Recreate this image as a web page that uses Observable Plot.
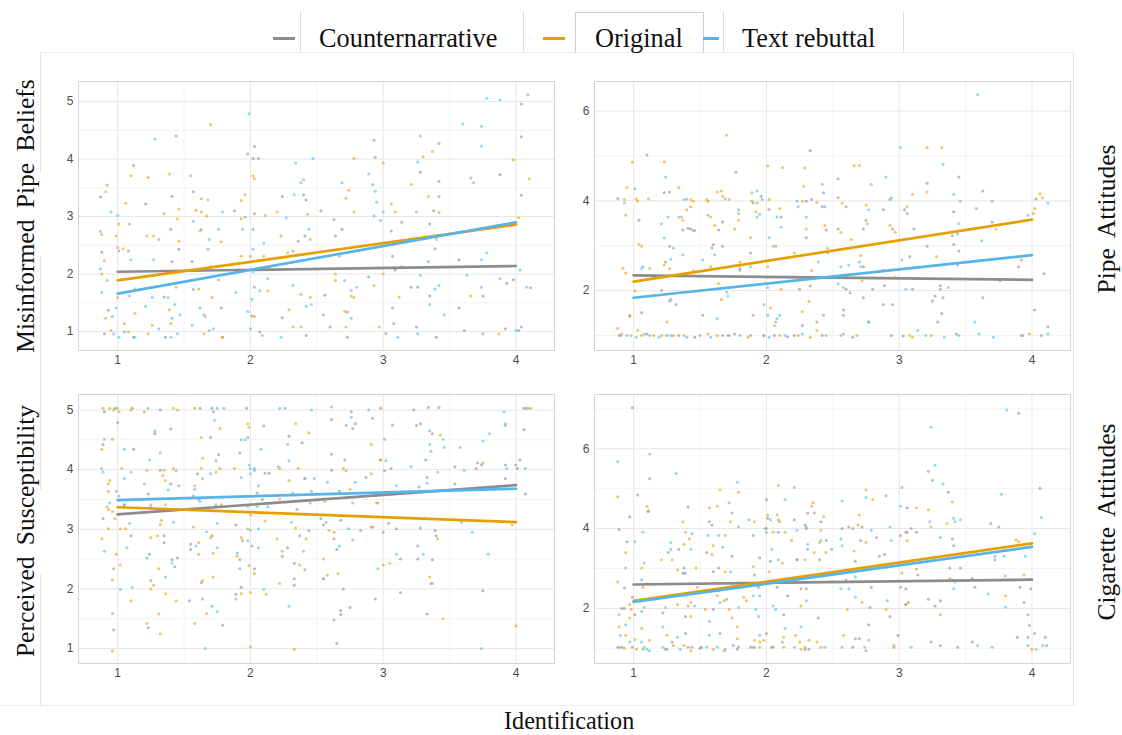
<!DOCTYPE html>
<html>
<head>
<meta charset="utf-8">
<script src="https://cdn.jsdelivr.net/npm/d3@7"></script>
<script src="https://cdn.jsdelivr.net/npm/@observablehq/plot@0.6"></script>
<style>
  body { margin: 0; background: #fff; }
  #root { position: relative; width: 1122px; height: 735px; overflow: hidden; background: #fff; font-family: "Liberation Serif", "Times New Roman", serif; color: #111; }
  .abs { position: absolute; }
  .leg { position: absolute; font-size: 28px; line-height: 28px; white-space: nowrap; transform-origin: left center; transform: scaleX(0.94); }
  .sw { position: absolute; height: 3px; }
  .vline { position: absolute; width: 1px; background: #dcdcdc; }
  .hline { position: absolute; height: 1px; background: #ececec; }
  .rot { position: absolute; font-size: 25.5px; white-space: nowrap; word-spacing: 5px; transform: translate(-50%, -50%) rotate(-90deg); }
  .panel { position: absolute; }
</style>
</head>
<body>
<div id="root"></div>
<script>
// ---------- categories / labels ----------
const groups = ["Counternarrative", "Original", "Text rebuttal"];
const groupColors = ["#8c8c8c", "#E69F00", "#56B4E9"];
const xTicks = [1, 2, 3, 4];
const xMinor = [1.5, 2.5, 3.5];
const rowLabelsLeft = ["Misinformed Pipe Beliefs", "Perceived Susceptibility"];
const rowLabelsRight = ["Pipe Attitudes", "Cigarette Attitudes"];
const xAxisLabel = "Identification";

// ---------- Panel 1: Misinformed Pipe Beliefs ----------
const beliefsCounter = [[0.87,3.34],[0.92,3.55],[0.88,2.38],[0.93,1.37],[0.90,0.96],[1.12,3.89],[1.08,2.40],[1.21,3.22],[1.41,3.35],[1.44,4.40],[1.40,2.78],[1.46,2.43],[1.41,2.22],[1.35,1.60],[1.36,0.90],[1.12,0.90],[1.56,2.22],[1.57,3.43],[1.63,2.77],[1.57,1.73],[1.78,1.41],[1.79,0.90],[1.76,1.90],[1.88,3.10],[1.98,4.09],[2.03,4.22],[2.02,4.01],[2.06,4.01],[2.03,3.05],[2.02,2.78],[2.03,1.77],[2.01,1.27],[2.07,0.99],[2.24,3.35],[2.40,3.38],[2.42,3.29],[2.36,2.57],[2.41,2.66],[2.32,2.40],[2.24,1.24],[2.42,0.93],[2.53,3.10],[2.63,2.95],[2.69,2.78],[2.64,2.66],[2.56,1.63],[2.55,1.29],[2.60,1.08],[2.73,0.90],[2.73,1.34],[2.93,4.33],[2.94,4.03],[2.92,3.56],[2.89,1.95],[3.06,2.75],[3.14,2.90],[3.07,2.31],[3.09,2.07],[3.07,1.41],[3.08,1.14],[3.02,0.96],[3.28,3.77],[3.35,2.87],[3.42,4.27],[3.42,3.61],[3.42,3.35],[3.38,3.10],[3.39,2.44],[3.26,1.77],[3.21,1.77],[3.35,1.62],[3.40,0.90],[3.25,1.08],[3.57,2.25],[3.57,1.41],[3.61,1.02],[3.66,3.67],[3.75,1.62],[3.75,0.96],[3.88,3.73],[3.93,1.84],[3.98,1.90],[3.92,1.05],[4.04,3.37],[4.04,4.39],[4.04,4.96],[4.11,1.76],[4.04,1.08],[4.02,1.02]];
const beliefsOriginal = [[0.91,3.43],[0.88,2.69],[0.90,2.23],[0.88,2.00],[0.91,1.23],[0.95,1.02],[0.99,2.66],[1.00,2.46],[1.01,2.87],[1.06,3.23],[1.10,3.71],[1.04,2.44],[1.00,1.59],[1.05,1.14],[1.08,0.99],[1.13,1.74],[1.13,1.32],[1.22,2.66],[1.23,3.68],[1.27,2.66],[1.23,0.96],[1.26,1.11],[1.35,3.05],[1.39,3.74],[1.45,2.96],[1.46,3.13],[1.46,2.57],[1.44,1.77],[1.39,1.38],[1.40,1.14],[1.62,2.75],[1.63,3.31],[1.59,3.11],[1.63,3.08],[1.68,3.29],[1.70,4.60],[1.67,3.01],[1.70,2.13],[1.61,1.74],[1.65,1.29],[1.65,0.96],[1.71,1.59],[1.78,2.56],[1.79,0.90],[1.93,3.28],[1.96,3.38],[1.93,2.96],[1.93,2.31],[1.91,2.07],[2.02,3.71],[2.03,3.66],[2.00,2.31],[2.03,1.26],[2.11,3.02],[2.10,2.31],[2.14,2.10],[2.13,1.71],[2.20,3.08],[2.23,2.66],[2.28,2.37],[2.29,1.38],[2.32,1.08],[2.43,3.04],[2.45,2.60],[2.38,1.65],[2.45,1.59],[2.38,1.08],[2.72,3.32],[2.74,3.46],[2.78,4.01],[2.78,3.08],[2.64,2.00],[2.64,1.89],[2.71,1.35],[2.72,1.08],[2.76,1.62],[2.78,1.59],[2.93,1.80],[3.00,3.93],[3.06,3.22],[3.09,3.08],[3.00,2.00],[2.97,1.08],[3.12,1.60],[3.21,3.56],[3.30,4.04],[3.37,4.13],[3.34,3.35],[3.40,2.60],[3.42,3.07],[3.66,1.62],[3.87,0.96],[3.98,3.99],[4.02,2.98],[4.10,3.66]];
const beliefsRebuttal = [[0.87,2.74],[0.87,2.09],[0.88,1.68],[0.95,3.08],[0.92,1.89],[0.96,1.26],[0.99,1.41],[1.00,3.02],[1.01,2.40],[0.97,0.96],[1.01,0.90],[1.05,0.99],[1.09,2.87],[1.10,2.25],[1.13,0.90],[1.09,1.62],[1.28,4.35],[1.27,2.25],[1.31,2.60],[1.26,1.59],[1.21,1.44],[1.31,1.05],[1.41,1.23],[1.43,1.47],[1.47,1.29],[1.38,1.59],[1.40,0.90],[1.45,0.96],[1.55,3.71],[1.57,2.92],[1.56,1.11],[1.62,1.41],[1.68,2.43],[1.69,2.60],[1.66,1.26],[1.69,1.02],[1.76,2.78],[1.79,3.08],[1.72,1.05],[1.89,1.68],[1.94,2.78],[1.96,2.99],[1.99,4.79],[1.98,1.35],[2.01,1.56],[2.02,2.43],[2.02,2.04],[2.00,1.05],[2.09,0.93],[2.10,2.54],[2.13,1.92],[2.07,1.71],[2.27,2.98],[2.34,3.93],[2.33,3.38],[2.38,3.59],[2.40,3.64],[2.47,4.01],[2.32,1.80],[2.42,1.44],[2.46,1.47],[2.44,2.78],[2.23,0.90],[2.69,3.59],[2.67,2.31],[2.71,1.89],[2.76,1.23],[2.80,1.77],[2.76,1.72],[2.89,3.74],[2.94,3.44],[2.95,3.25],[2.93,3.01],[2.98,2.93],[3.00,3.08],[3.11,0.90],[3.14,2.13],[3.25,3.08],[3.26,3.95],[3.28,4.40],[3.28,1.98],[3.35,1.47],[3.34,2.22],[3.46,1.29],[3.39,1.74],[3.42,1.80],[3.26,0.96],[3.60,4.61],[3.68,3.59],[3.63,1.98],[3.74,4.57],[3.74,4.23],[3.78,5.06],[3.74,2.25],[3.78,2.37],[3.74,1.77],[3.88,5.03],[3.88,1.92],[4.09,5.12],[4.03,2.07],[4.08,1.77],[4.00,1.02]];
const beliefsFit = [[2.04, 2.14], [1.89, 2.86], [1.66, 2.90]]; // fitted y at Identification = 1 and 4

// ---------- Panel 2: Pipe Attitudes ----------
const pipeCounter = [[0.88,4.05],[1.04,3.57],[1.10,5.02],[1.06,1.51],[0.97,1.45],[1.23,4.18],[1.27,4.20],[1.24,2.64],[1.21,2.00],[1.27,2.99],[1.32,1.69],[1.28,1.80],[1.37,3.35],[1.41,3.39],[1.43,3.37],[1.52,1.45],[1.59,2.95],[1.60,3.03],[1.67,3.53],[1.64,3.35],[1.67,2.99],[1.77,4.64],[1.80,2.49],[1.88,2.84],[1.90,1.45],[1.96,4.10],[2.02,3.81],[2.01,2.30],[2.07,2.99],[2.11,3.64],[2.16,0.97],[2.27,1.22],[2.30,3.99],[2.33,5.12],[2.30,3.18],[2.33,2.11],[2.25,2.03],[2.34,4.03],[2.38,1.30],[2.42,3.87],[2.45,3.35],[2.43,4.18],[2.43,1.45],[2.54,4.49],[2.54,4.07],[2.54,3.37],[2.58,1.45],[2.58,1.57],[2.60,3.87],[2.60,2.03],[2.63,1.95],[2.65,0.96],[2.73,1.84],[2.75,3.57],[2.73,3.37],[2.73,2.53],[2.77,1.30],[2.80,2.03],[2.88,3.80],[2.88,1.69],[2.89,2.11],[2.88,2.45],[2.93,4.03],[2.95,3.37],[2.95,1.69],[2.94,1.00],[3.03,0.99],[3.04,3.80],[3.06,3.72],[3.08,2.76],[3.10,2.03],[3.11,3.37],[3.21,4.39],[3.21,2.99],[3.25,1.77],[3.27,1.88],[3.31,2.11],[3.31,2.03],[3.29,1.30],[3.32,1.49],[3.33,1.84],[3.41,3.76],[3.41,3.03],[3.43,1.03],[3.45,4.53],[3.45,2.88],[3.40,3.22],[3.63,4.22],[3.63,1.84],[3.70,3.53],[3.76,2.22],[3.90,2.53],[3.92,2.68],[3.93,1.00],[4.02,1.57],[4.03,4.04],[4.09,2.38],[4.07,1.00],[4.12,1.19],[0.90,1.00],[1.10,1.03],[1.25,1.00],[1.34,1.00],[1.46,0.96],[1.67,1.00],[1.76,1.03],[1.88,1.00],[2.06,1.00],[2.21,1.00],[2.42,1.00]];
const pipeOriginal = [[0.88,1.16],[0.99,4.86],[0.95,4.30],[0.93,4.03],[0.94,3.68],[0.92,2.50],[0.94,2.39],[1.02,4.04],[1.03,3.99],[1.04,3.03],[1.06,2.99],[1.01,1.99],[0.97,1.42],[1.11,4.04],[1.12,2.49],[1.12,1.88],[1.03,1.11],[1.23,4.87],[1.23,2.57],[1.25,1.30],[1.27,2.49],[1.34,4.30],[1.36,3.64],[1.37,3.57],[1.40,3.80],[1.43,4.03],[1.45,3.99],[1.43,3.87],[1.45,3.34],[1.45,2.45],[1.55,4.03],[1.56,3.99],[1.58,3.64],[1.61,3.45],[1.63,4.20],[1.66,4.22],[1.67,4.10],[1.69,4.04],[1.70,5.46],[1.66,1.80],[1.64,2.16],[1.76,3.37],[1.79,3.57],[1.80,2.64],[1.79,3.72],[1.88,3.18],[1.89,3.99],[1.92,3.76],[1.93,3.95],[2.01,4.78],[2.01,2.53],[2.02,4.03],[2.03,1.61],[2.05,2.99],[2.10,3.83],[2.12,4.74],[2.11,2.03],[2.06,1.22],[2.21,2.84],[2.27,3.99],[2.28,4.32],[2.29,4.73],[2.27,1.53],[2.30,3.37],[2.32,1.76],[2.34,2.45],[2.38,3.97],[2.44,3.45],[2.46,2.95],[2.38,1.11],[2.56,3.30],[2.57,3.95],[2.59,2.34],[2.64,3.14],[2.66,4.78],[2.70,4.79],[2.71,2.78],[2.72,2.22],[2.75,3.91],[2.76,3.49],[2.93,3.45],[2.97,3.30],[2.97,2.30],[3.06,3.87],[3.10,4.14],[3.08,1.00],[3.21,5.19],[3.21,4.20],[3.24,1.00],[3.28,2.76],[3.32,5.19],[3.73,3.37],[3.98,1.03],[4.01,3.72],[4.02,3.83],[4.06,4.16],[4.08,4.07],[0.91,1.03],[0.98,1.00],[1.06,1.00],[1.15,1.00],[1.21,1.00],[1.30,1.00],[1.38,1.00],[1.56,1.03],[1.63,1.00],[1.72,1.00],[1.86,0.96],[1.98,1.00],[2.10,1.00],[2.24,1.00],[2.33,0.96],[2.56,1.00],[2.68,1.00],[3.10,0.96]];
const pipeRebuttal = [[0.93,3.95],[1.01,4.27],[1.06,2.49],[1.07,2.53],[1.24,4.53],[1.21,3.49],[1.23,3.18],[1.26,3.64],[1.30,2.95],[1.28,2.70],[1.27,1.76],[1.34,3.64],[1.37,2.80],[1.38,4.03],[1.40,4.04],[1.46,3.34],[1.52,2.68],[1.56,3.68],[1.58,2.53],[1.61,2.80],[1.63,1.38],[1.70,1.97],[1.71,1.88],[1.72,4.03],[1.79,3.80],[1.80,2.45],[1.88,2.53],[1.89,4.18],[1.90,3.95],[1.93,3.64],[1.93,4.22],[1.95,3.70],[1.97,4.03],[1.98,1.69],[2.01,1.45],[2.02,3.18],[2.01,2.07],[2.07,1.30],[2.08,1.38],[2.10,1.45],[2.08,3.64],[2.11,3.41],[2.23,3.99],[2.24,3.87],[2.30,3.64],[2.39,2.64],[2.42,4.37],[2.44,3.87],[2.46,2.84],[2.56,2.53],[2.54,2.15],[2.58,2.07],[2.62,2.57],[2.70,2.64],[2.71,2.53],[2.77,3.80],[2.77,1.30],[2.79,4.37],[2.90,4.53],[2.94,4.07],[3.01,5.19],[3.02,2.68],[3.05,2.03],[3.14,1.11],[3.33,4.81],[3.37,2.07],[3.41,4.14],[3.45,3.49],[3.44,3.26],[3.46,3.99],[3.44,2.57],[3.57,1.30],[3.58,3.83],[3.59,6.37],[3.62,3.11],[3.70,3.99],[3.97,3.68],[4.12,3.95],[4.12,1.03],[0.89,1.00],[0.95,1.00],[1.02,0.96],[1.08,1.03],[1.12,1.00],[1.19,0.96],[1.28,1.00],[1.40,0.96],[1.50,1.00],[1.58,0.96],[1.71,1.00],[1.80,1.00],[1.98,1.00],[2.02,0.96],[2.14,1.00],[2.27,1.03],[2.45,1.00],[2.58,1.03],[3.20,1.00],[3.34,0.96],[3.45,1.00],[3.60,1.03],[3.71,0.96],[3.92,1.00]];
const pipeFit = [[2.34, 2.24], [2.20, 3.58], [1.84, 2.79]];

// ---------- Panel 3: Perceived Susceptibility ----------
const suscCounter = [[0.90,4.97],[0.98,5.03],[1.00,4.79],[0.89,3.18],[0.89,4.42],[0.97,2.34],[0.97,1.31],[1.11,5.03],[1.12,4.34],[1.05,3.41],[1.10,2.89],[1.23,3.59],[1.24,2.58],[1.25,2.14],[1.23,1.35],[1.28,4.60],[1.32,5.00],[1.32,3.99],[1.35,2.89],[1.35,2.78],[1.40,4.68],[1.40,3.76],[1.41,2.49],[1.43,2.37],[1.45,2.52],[1.46,3.73],[1.54,1.80],[1.55,2.66],[1.55,2.75],[1.57,3.56],[1.60,3.93],[1.62,5.03],[1.63,2.11],[1.64,1.83],[1.70,4.54],[1.72,4.97],[1.71,5.03],[1.71,2.89],[1.74,4.15],[1.76,4.25],[1.79,1.39],[1.89,3.07],[1.89,1.91],[1.92,4.28],[1.92,2.49],[1.93,2.03],[1.94,2.81],[1.97,5.03],[1.98,4.54],[2.01,2.72],[2.03,2.34],[2.05,3.61],[2.10,4.73],[2.09,3.50],[2.11,3.94],[2.14,3.94],[2.24,2.55],[2.29,4.56],[2.28,2.69],[2.33,2.43],[2.33,2.17],[2.33,2.06],[2.35,3.33],[2.37,2.89],[2.39,4.45],[2.41,3.85],[2.44,2.98],[2.41,2.32],[2.46,3.64],[2.53,3.18],[2.55,3.07],[2.61,4.84],[2.61,4.26],[2.61,3.99],[2.63,2.84],[2.63,1.48],[2.65,2.66],[2.65,1.09],[2.67,3.64],[2.68,3.15],[2.68,1.57],[2.68,1.64],[2.70,2.00],[2.71,4.16],[2.72,4.74],[2.75,1.69],[2.76,4.97],[2.77,4.69],[2.79,4.77],[2.83,2.98],[2.87,3.87],[2.92,4.86],[2.92,3.04],[2.94,1.83],[2.98,5.03],[2.98,4.16],[3.00,2.95],[3.01,3.98],[3.04,3.10],[3.06,4.02],[3.07,4.75],[3.10,3.01],[3.13,2.50],[3.13,1.94],[3.23,5.00],[3.25,4.74],[3.28,4.77],[3.27,3.71],[3.26,2.72],[3.26,2.50],[3.28,3.02],[3.32,4.16],[3.33,3.87],[3.33,1.58],[3.34,5.04],[3.37,4.60],[3.37,2.49],[3.39,2.98],[3.40,2.89],[3.42,5.04],[3.54,3.76],[3.54,4.05],[3.70,4.02],[3.71,4.11],[3.74,4.08],[3.75,1.97],[3.92,3.85],[3.92,4.08],[4.00,4.08],[4.01,4.02],[4.03,4.16],[4.06,4.67],[4.07,3.59],[4.09,5.03]];
const suscOriginal = [[0.88,4.34],[0.88,2.84],[0.89,5.03],[0.96,4.51],[0.93,3.76],[0.93,3.64],[0.94,3.82],[0.92,3.38],[0.93,3.33],[0.96,3.30],[0.93,3.01],[0.98,3.18],[0.99,2.58],[0.96,2.15],[0.96,0.96],[0.94,5.03],[0.97,5.00],[1.01,4.97],[1.03,4.02],[1.02,3.01],[1.06,3.01],[1.02,2.40],[1.10,1.80],[1.10,5.00],[1.20,4.97],[1.22,3.99],[1.25,3.41],[1.25,2.86],[1.27,2.06],[1.25,2.00],[1.22,1.42],[1.31,2.34],[1.31,1.58],[1.32,1.25],[1.33,3.15],[1.32,3.08],[1.30,2.89],[1.34,3.90],[1.35,3.99],[1.36,3.82],[1.36,3.41],[1.36,1.92],[1.42,5.03],[1.45,5.00],[1.42,4.02],[1.44,1.80],[1.58,5.03],[1.58,3.73],[1.57,3.04],[1.58,1.42],[1.61,2.58],[1.61,2.78],[1.63,4.54],[1.63,4.02],[1.64,2.14],[1.64,4.19],[1.67,1.59],[1.70,2.86],[1.72,2.60],[1.72,2.20],[1.74,3.96],[1.77,4.02],[1.78,3.41],[1.77,4.69],[1.88,4.02],[1.90,2.55],[1.93,1.92],[1.93,2.86],[1.98,4.77],[1.99,4.71],[1.99,2.39],[1.98,3.01],[2.00,1.03],[2.00,1.94],[2.00,3.24],[2.03,2.26],[2.08,3.27],[2.11,3.14],[2.12,1.91],[2.22,4.02],[2.22,3.51],[2.20,2.84],[2.22,2.09],[2.24,2.63],[2.29,3.82],[2.34,4.77],[2.34,3.02],[2.36,4.02],[2.37,2.40],[2.33,0.99],[2.42,2.84],[2.44,4.62],[2.55,2.50],[2.55,2.17],[2.58,2.23],[2.56,3.47],[2.59,2.98],[2.63,2.95],[2.66,2.26],[2.70,4.02],[2.72,3.98],[2.75,3.67],[2.91,4.42],[2.91,3.93],[2.91,3.04],[2.96,3.44],[2.95,3.44],[2.98,4.16],[3.00,2.40],[3.05,2.43],[3.31,3.19],[3.35,2.20],[3.36,2.09],[3.41,2.84],[3.43,4.58],[3.45,1.50],[3.75,4.11],[3.97,3.07],[4.00,1.38],[4.06,5.03],[4.11,5.03]];
const suscRebuttal = [[0.88,4.02],[0.89,3.96],[0.90,4.51],[0.90,2.63],[0.94,3.44],[0.96,1.59],[1.00,5.03],[0.99,3.64],[1.01,3.56],[1.02,1.99],[1.05,4.34],[1.05,3.85],[1.05,3.41],[1.07,2.69],[1.09,3.10],[1.11,2.03],[1.10,3.96],[1.20,3.76],[1.22,2.52],[1.23,5.03],[1.24,4.16],[1.25,3.37],[1.28,4.65],[1.32,4.28],[1.36,2.20],[1.38,3.66],[1.41,2.43],[1.42,3.12],[1.44,3.98],[1.45,3.33],[1.61,3.50],[1.58,3.67],[1.62,3.47],[1.59,2.72],[1.64,3.85],[1.66,1.00],[1.67,2.96],[1.70,3.93],[1.71,1.71],[1.73,4.83],[1.75,1.62],[1.75,3.10],[1.75,5.03],[1.80,5.03],[1.74,3.41],[1.75,2.69],[1.89,1.83],[1.90,2.60],[1.92,2.34],[1.93,3.87],[1.93,4.50],[1.96,4.50],[1.98,2.81],[1.98,3.38],[1.99,4.08],[2.00,4.02],[2.00,2.99],[2.00,3.93],[2.03,4.02],[2.03,3.99],[2.05,3.38],[2.06,3.01],[2.06,3.73],[2.08,4.34],[2.10,1.99],[2.06,2.69],[2.13,3.38],[2.22,5.03],[2.26,5.03],[2.21,4.05],[2.28,4.42],[2.29,4.15],[2.29,1.71],[2.31,3.12],[2.32,3.61],[2.40,2.63],[2.41,3.85],[2.46,5.00],[2.48,3.85],[2.45,3.44],[2.61,5.05],[2.58,3.79],[2.57,3.12],[2.55,2.17],[2.67,2.72],[2.74,3.01],[2.77,3.44],[2.77,2.82],[2.76,4.88],[2.79,3.79],[2.89,5.00],[2.96,2.34],[3.01,4.51],[3.02,4.15],[3.10,3.73],[3.10,2.58],[3.21,4.05],[3.30,2.58],[3.33,3.77],[3.35,4.65],[3.35,4.42],[3.36,4.31],[3.37,2.09],[3.41,3.96],[3.45,4.51],[3.46,4.37],[3.59,3.12],[3.58,4.37],[3.61,3.99],[3.67,2.95],[3.75,4.48],[3.74,1.00],[3.79,2.58],[3.80,4.60],[3.91,4.97],[3.92,4.77],[3.93,4.02],[3.92,4.74],[4.07,4.02],[4.07,5.03]];
const suscFit = [[3.25, 3.74], [3.37, 3.12], [3.49, 3.68]];

// ---------- Panel 4: Cigarette Attitudes ----------
const cigCounter = [[0.99,7.03],[0.89,3.98],[0.97,4.30],[0.95,3.67],[0.93,2.51],[0.91,2.00],[0.93,2.00],[1.01,1.84],[1.03,4.84],[1.12,5.25],[1.11,4.43],[0.99,2.28],[1.22,1.89],[1.26,3.40],[1.29,1.16],[1.34,3.48],[1.39,1.80],[1.41,4.54],[1.38,3.01],[1.39,1.37],[1.44,1.03],[1.50,1.00],[1.55,3.40],[1.57,4.17],[1.59,4.09],[1.60,2.92],[1.60,1.97],[1.64,3.01],[1.65,1.37],[1.64,2.45],[1.70,2.23],[1.74,4.39],[1.74,3.31],[1.75,1.07],[1.78,0.98],[1.88,1.03],[1.90,3.83],[1.91,2.84],[1.94,2.53],[1.95,3.27],[2.00,4.73],[2.01,4.26],[2.03,3.18],[2.00,1.37],[2.05,1.03],[2.08,2.53],[2.09,3.91],[2.12,1.16],[2.13,1.84],[2.16,2.32],[2.21,4.22],[2.23,3.22],[2.26,2.49],[2.29,4.09],[2.30,2.49],[2.30,4.00],[2.31,4.39],[2.36,4.39],[2.39,1.76],[2.40,3.22],[2.41,4.17],[2.45,3.70],[2.49,3.48],[2.57,4.00],[2.60,2.71],[2.62,4.04],[2.65,4.00],[2.65,1.03],[2.67,3.18],[2.67,1.24],[2.70,1.24],[2.71,3.70],[2.72,4.04],[2.75,0.94],[2.77,1.59],[2.78,2.02],[2.79,2.53],[2.83,3.78],[2.85,3.31],[2.89,3.35],[2.93,1.80],[2.96,1.03],[3.01,3.83],[2.99,1.33],[3.01,2.53],[3.05,3.91],[3.07,2.15],[3.05,2.49],[3.06,3.91],[3.05,2.10],[3.06,4.52],[3.09,4.00],[3.13,3.91],[3.14,2.84],[3.22,5.44],[3.22,2.23],[3.24,1.16],[3.25,5.21],[3.27,2.06],[3.31,2.19],[3.31,1.07],[3.37,4.91],[3.38,3.01],[3.40,3.74],[3.41,3.57],[3.40,2.71],[3.44,1.03],[3.46,3.01],[3.55,2.75],[3.57,2.53],[3.55,1.16],[3.69,4.13],[3.75,4.04],[3.72,3.22],[3.84,2.71],[3.89,1.28],[3.90,6.89],[3.91,2.53],[3.94,2.15],[3.97,1.84],[3.98,1.57],[3.97,1.28],[3.99,2.49],[4.02,1.37],[4.06,5.01],[4.10,1.28],[4.11,1.07],[0.91,1.03],[0.99,1.03],[1.24,0.98],[1.41,1.03],[1.51,1.03],[1.79,1.03],[2.04,1.03],[2.29,0.98],[2.32,0.98]];
const cigOriginal = [[0.88,4.80],[0.88,2.66],[0.89,1.54],[0.94,3.40],[0.94,1.33],[0.97,2.10],[0.97,1.76],[0.98,1.97],[1.01,1.22],[1.06,3.01],[1.07,2.53],[1.06,1.50],[1.10,2.62],[1.10,4.56],[1.11,4.45],[1.08,2.02],[1.12,1.20],[1.21,3.22],[1.24,2.62],[1.25,1.33],[1.29,3.22],[1.33,2.97],[1.33,2.10],[1.37,4.17],[1.38,3.61],[1.39,3.91],[1.38,2.88],[1.41,2.06],[1.43,1.80],[1.42,3.74],[1.43,2.15],[1.47,3.01],[1.48,2.53],[1.54,1.97],[1.57,4.52],[1.59,3.35],[1.60,3.57],[1.63,4.56],[1.63,2.32],[1.65,4.97],[1.68,2.19],[1.69,2.92],[1.69,3.83],[1.72,1.97],[1.73,4.17],[1.74,2.62],[1.74,1.76],[1.78,1.54],[1.79,4.91],[1.78,1.24],[1.83,2.28],[1.85,2.19],[1.90,3.05],[1.91,4.17],[1.91,1.20],[1.95,1.16],[1.98,1.20],[2.01,4.34],[2.00,4.00],[2.02,2.92],[2.05,3.91],[2.08,4.34],[2.09,5.08],[2.10,4.17],[2.12,3.14],[2.13,1.28],[2.14,3.91],[2.19,3.70],[2.22,1.33],[2.25,1.16],[2.26,2.06],[2.29,3.22],[2.29,1.03],[2.32,1.20],[2.34,4.56],[2.35,4.65],[2.36,3.40],[2.38,1.16],[2.40,3.65],[2.41,3.96],[2.43,4.30],[2.45,3.40],[2.58,1.33],[2.61,1.97],[2.65,2.66],[2.66,3.44],[2.69,4.09],[2.70,4.34],[2.72,2.15],[2.75,4.97],[2.75,3.65],[2.77,1.20],[2.80,4.73],[2.90,1.97],[2.96,1.07],[3.02,2.88],[3.05,2.10],[3.06,3.70],[3.13,2.98],[3.13,4.52],[3.22,4.47],[3.24,4.04],[3.31,1.84],[3.36,4.13],[3.38,2.75],[3.40,4.67],[3.80,2.32],[3.88,3.72],[3.90,3.67],[3.94,2.84],[4.00,0.98],[0.89,1.03],[0.93,1.00],[1.02,0.98],[1.08,1.03],[1.22,1.03],[1.30,1.07],[1.38,1.07],[1.43,0.94],[1.60,0.98],[1.68,0.94],[1.90,1.03],[1.95,1.03],[2.13,1.03],[2.26,0.98],[2.41,1.03]];
const cigRebuttal = [[0.88,5.68],[0.89,1.84],[0.90,1.33],[0.94,3.01],[0.94,1.59],[0.97,1.16],[1.01,3.67],[1.06,1.93],[1.06,2.71],[1.07,3.91],[1.08,3.14],[1.12,5.87],[1.06,1.16],[1.10,0.98],[1.12,0.94],[1.22,1.54],[1.24,2.02],[1.28,3.48],[1.28,3.65],[1.33,1.28],[1.32,5.38],[1.37,2.88],[1.39,2.88],[1.44,3.87],[1.43,3.48],[1.46,2.06],[1.52,2.41],[1.57,1.67],[1.56,3.83],[1.57,1.33],[1.65,2.15],[1.64,3.83],[1.67,3.53],[1.72,4.65],[1.73,2.92],[1.78,5.16],[1.79,4.04],[1.79,2.02],[1.87,4.22],[1.90,2.32],[1.92,1.97],[1.95,2.32],[1.94,1.80],[1.95,1.33],[1.99,4.00],[2.00,3.91],[2.03,4.22],[2.04,3.48],[2.05,2.06],[2.07,1.97],[2.09,4.22],[2.09,3.22],[2.14,1.50],[2.14,4.73],[2.21,5.03],[2.23,3.22],[2.23,3.96],[2.30,2.19],[2.31,3.48],[2.31,3.61],[2.26,1.54],[2.30,4.04],[2.41,3.70],[2.56,3.74],[2.57,3.57],[2.57,4.69],[2.56,2.49],[2.62,2.49],[2.67,2.28],[2.67,2.79],[2.75,4.78],[2.79,3.96],[2.90,4.82],[2.91,2.19],[2.93,4.04],[2.94,3.70],[3.01,4.56],[3.02,5.03],[3.09,1.03],[3.23,4.17],[3.24,6.54],[3.27,5.59],[3.31,3.78],[3.33,5.12],[3.41,4.26],[3.42,4.17],[3.42,2.66],[3.41,2.49],[3.46,4.22],[3.59,1.07],[3.67,2.36],[3.70,1.03],[3.72,3.31],[3.77,4.86],[3.79,3.31],[3.80,2.81],[3.80,2.03],[3.81,6.97],[3.95,3.31],[3.97,1.07],[4.02,3.87],[4.03,0.98],[4.07,4.28],[4.08,1.07],[0.88,1.03],[1.07,0.98],[1.25,0.98],[1.35,0.98],[1.55,1.03],[1.63,1.03],[1.69,0.98],[1.91,1.03],[2.21,1.03],[2.44,1.03],[2.57,1.03],[2.74,1.03]];
const cigFit = [[2.60, 2.72], [2.19, 3.63], [2.16, 3.54]];

// ---------- build ----------
const root = document.getElementById("root");
function el(tag, cls, style, text) {
  const e = document.createElement(tag);
  if (cls) e.className = cls;
  Object.assign(e.style, style);
  if (text != null) e.textContent = text;
  root.appendChild(e);
  return e;
}

// page frame lines (document artefacts)
el("div", "hline", {left: "40px", top: "52px", width: "1035px"});
el("div", "hline", {left: "0px", top: "705px", width: "1075px"});
el("div", "vline", {left: "40px", top: "52px", height: "121px", background: "#e3e3e3"});
el("div", "vline", {left: "40px", top: "256px", height: "234px", background: "#e3e3e3"});
el("div", "vline", {left: "40px", top: "574px", height: "132px", background: "#e3e3e3"});
el("div", "vline", {left: "1073px", top: "52px", height: "654px", background: "#e3e3e3"});

// legend
const legendSw = [{x: 273, w: 22}, {x: 543, w: 22}, {x: 703, w: 16}];
const legendTx = [319, 595, 742];
[300, 523, 723, 903].forEach(x => el("div", "vline", {left: x + "px", top: "11px", height: "41px"}));
el("div", "", {position: "absolute", left: "575px", top: "12px", width: "127px", height: "40px", borderTop: "1px solid #cfcfcf", borderLeft: "1px solid #cfcfcf", borderRight: "1px solid #cfcfcf"});
groups.forEach((g, i) => {
  el("div", "sw", {left: legendSw[i].x + "px", top: "37px", width: legendSw[i].w + "px", background: groupColors[i]});
  el("div", "leg", {left: legendTx[i] + "px", top: "24px"}, g);
});

// row labels
el("div", "rot", {left: "26px", top: "216px"}, rowLabelsLeft[0]);
el("div", "rot", {left: "26px", top: "531px"}, rowLabelsLeft[1]);
el("div", "rot", {left: "1107px", top: "219px"}, rowLabelsRight[0]);
el("div", "rot", {left: "1107px", top: "522px"}, rowLabelsRight[1]);
el("div", "abs", {left: "504px", top: "706px", fontSize: "26px", transform: "scaleX(0.93)", transformOrigin: "left"}, xAxisLabel);

function panel(opts) {
  const pts = opts.series.flatMap((arr, i) => arr.map(([x, y]) => ({x, y, g: groups[i]})));
  const lines = opts.fit.flatMap((f, i) => [{x: 1, y: f[0], g: groups[i]}, {x: 4, y: f[1], g: groups[i]}]);
  const chart = Plot.plot({
    width: 521, height: 309,
    marginLeft: 40, marginRight: 5, marginTop: 10, marginBottom: 30,
    x: {domain: [0.705, 4.29], ticks: xTicks, tickSize: 0, tickPadding: 5, tickFormat: d => String(d), label: null},
    y: {domain: opts.yDomain, ticks: opts.yTicks, tickSize: 0, tickPadding: 5, tickFormat: d => String(d), label: null},
    color: {domain: groups, range: groupColors},
    style: {fontFamily: "'Liberation Sans', Arial, sans-serif", fontSize: "12px", color: "#4d4d4d", background: "transparent", overflow: "visible"},
    marks: [
      Plot.gridX(xMinor, {stroke: "#f0f0f0", strokeOpacity: 1, strokeWidth: 0.8}),
      Plot.gridY(opts.yMinor, {stroke: "#f0f0f0", strokeOpacity: 1, strokeWidth: 0.8}),
      Plot.gridX(xTicks, {stroke: "#e6e6e6", strokeOpacity: 1, strokeWidth: 1}),
      Plot.gridY(opts.yTicks, {stroke: "#e6e6e6", strokeOpacity: 1, strokeWidth: 1}),
      Plot.frame({stroke: "#d4d4d4", strokeWidth: 1}),
      Plot.dot(pts, {x: "x", y: "y", fill: "g", r: 1.5, fillOpacity: 0.6, stroke: null}),
      Plot.line(lines, {x: "x", y: "y", stroke: "g", z: "g", strokeWidth: 2.7})
    ]
  });
  chart.classList.add("panel");
  chart.style.position = "absolute";
  chart.style.left = opts.left + "px";
  chart.style.top = opts.top + "px";
  root.appendChild(chart);
}

panel({series: [beliefsCounter, beliefsOriginal, beliefsRebuttal], fit: beliefsFit,
  yDomain: [0.67, 5.35], yTicks: [1, 2, 3, 4, 5], yMinor: [1.5, 2.5, 3.5, 4.5], left: 38, top: 71});
panel({series: [pipeCounter, pipeOriginal, pipeRebuttal], fit: pipeFit,
  yDomain: [0.665, 6.66], yTicks: [2, 4, 6], yMinor: [1, 3, 5], left: 554, top: 71});
panel({series: [suscCounter, suscOriginal, suscRebuttal], fit: suscFit,
  yDomain: [0.75, 5.26], yTicks: [1, 2, 3, 4, 5], yMinor: [1.5, 2.5, 3.5, 4.5], left: 38, top: 384});
panel({series: [cigCounter, cigOriginal, cigRebuttal], fit: cigFit,
  yDomain: [0.62, 7.36], yTicks: [2, 4, 6], yMinor: [1, 3, 5, 7], left: 554, top: 384});
</script>
</body>
</html>
